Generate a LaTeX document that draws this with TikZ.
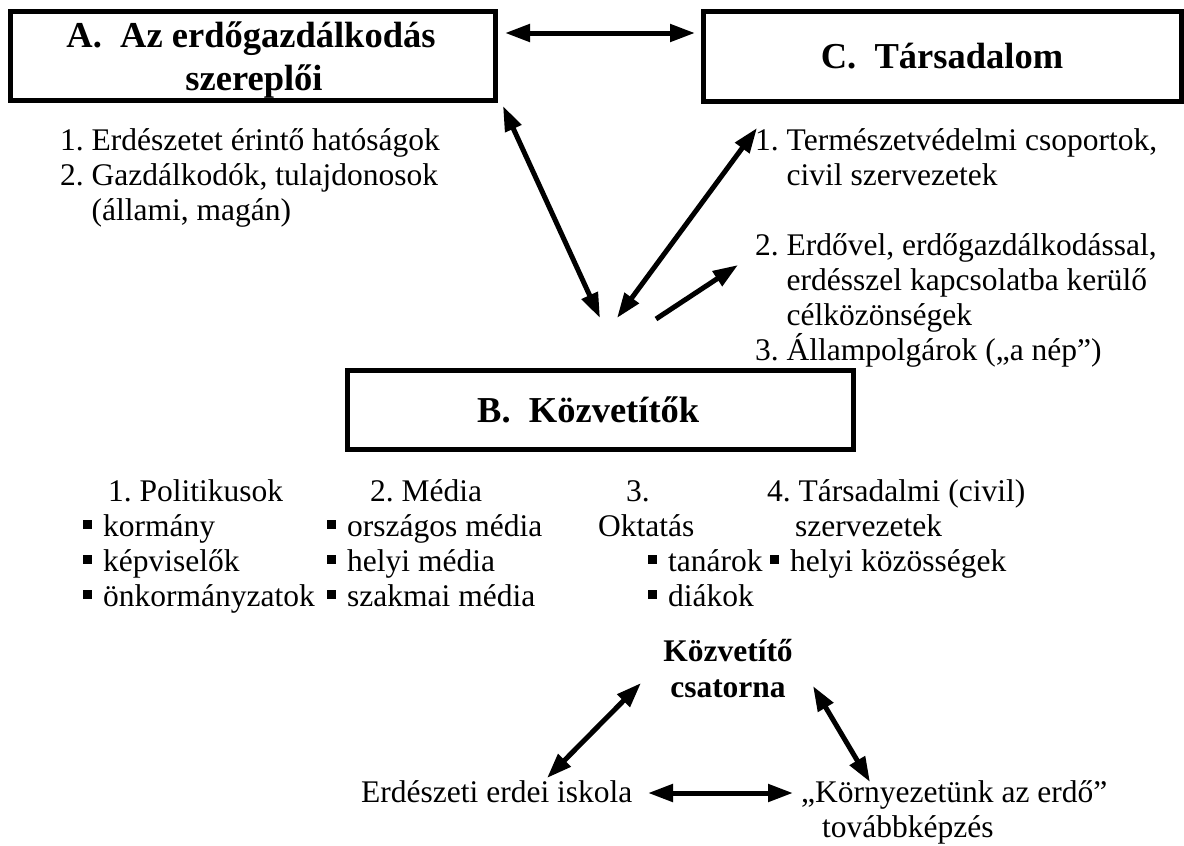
\documentclass[tikz,border=0pt]{standalone}
\usepackage{fontspec}
\setmainfont{Liberation Serif}
\usetikzlibrary{arrows.meta}
\newcommand\bul{\raisebox{7pt}{\rule{9pt}{9pt}}\hspace{11pt}}
\frenchspacing
\begin{document}
\begin{tikzpicture}[x=1pt,y=-1pt,
 box/.style={draw,line width=5pt,inner sep=0,outer sep=0},
 ttl/.style={font=\fontsize{36.5}{42}\bfseries\selectfont,inner sep=0},
 txt/.style={font=\fontsize{31.5}{35}\selectfont,inner sep=0,anchor=base west},
 bld/.style={font=\fontsize{31.5}{35}\bfseries\selectfont,inner sep=0,anchor=base},
 arr/.style={line width=5pt,{Triangle[length=25pt,width=17pt]}-{Triangle[length=25pt,width=17pt]}},
 arrone/.style={line width=5pt,-{Triangle[length=25pt,width=17pt]}}]
\useasboundingbox (0,0) rectangle (1184,846);
% boxes
\node[box,minimum width=484.5pt,minimum height=89.5pt] (A) at (252.75,55.75) {};
\node[box,minimum width=478pt,minimum height=89.5pt] (C) at (942,56.25) {};
\node[box,minimum width=505.5pt,minimum height=79pt] (B) at (600.25,410) {};
% titles
\node[ttl,anchor=base] (tA1) at (251,47) {A.\hspace{0.5em}Az erdőgazdálkodás};
\node[ttl,anchor=base] (tA2) at (254,90) {szereplői};
\node[ttl,anchor=base] (tC) at (942,68) {C.\hspace{0.5em}Társadalom};
\node[ttl,anchor=base west] (tB) at (477,422) {B.\hspace{0.5em}Közvetítők};
% list A
\node[txt] (a1) at (60,150) {1. Erdészetet érintő hatóságok};
\node[txt] (a2) at (60,185) {2. Gazdálkodók, tulajdonosok};
\node[txt] (a2b) at (91.5,220) {(állami, magán)};
% list C
\node[txt] (c1) at (755,150) {1. Természetvédelmi csoportok,};
\node[txt] (c1b) at (786.5,185) {civil szervezetek};
\node[txt] (c2) at (755,255) {2. Erdővel, erdőgazdálkodással,};
\node[txt] (c2b) at (786.5,290) {erdésszel kapcsolatba kerülő};
\node[txt] (c2c) at (786.5,325) {célközönségek};
\node[txt] (c3) at (755,360) {3. Állampolgárok („a nép”)};
% list B
\node[txt] (b1) at (108,501) {1. Politikusok};
\node[txt] (b11) at (83,536) {\bul kormány};
\node[txt] (b12) at (83,571) {\bul képviselők};
\node[txt] (b13) at (83,606) {\bul önkormányzatok};
\node[txt] (b2) at (370,501) {2. Média};
\node[txt] (b21) at (327,536) {\bul országos média};
\node[txt] (b22) at (327,571) {\bul helyi média};
\node[txt] (b23) at (327,606) {\bul szakmai média};
\node[txt] (b3) at (626,501) {3.};
\node[txt] (b3b) at (598,536) {Oktatás};
\node[txt] (b31) at (648,571) {\bul tanárok};
\node[txt] (b32) at (648,606) {\bul diákok};
\node[txt] (b4) at (767,501) {4. Társadalmi (civil)};
\node[txt] (b4b) at (795,536) {szervezetek};
\node[txt] (b41) at (770,571) {\bul helyi közösségek};
% channel
\node[bld] (k1) at (728,661) {Közvetítő};
\node[bld] (k2) at (728,697) {csatorna};
\node[txt] (e) at (361,802) {Erdészeti erdei iskola};
\node[txt] (ke) at (801,802) {„Környezetünk az erdő”};
\node[txt] (keb) at (822,837) {továbbképzés};
% arrow ends
\coordinate (pAC1) at (505,33);
\coordinate (pAC2) at (695,33);
\coordinate (pAB1) at (503,106);
\coordinate (pAB2) at (600,318);
\coordinate (pCB1) at (757,128);
\coordinate (pCB2) at (617,318);
\coordinate (pC2s) at (656,319);
\coordinate (pC2e) at (738,265);
\coordinate (pKE1) at (641,683);
\coordinate (pKE2) at (547,778);
\coordinate (pKK1) at (813,686);
\coordinate (pKK2) at (870,782);
\coordinate (pEE1) at (648,793);
\coordinate (pEE2) at (793,793);
\draw[arr] (pAC1) -- (pAC2);
\draw[arr] (pAB1) -- (pAB2);
\draw[arr] (pCB1) -- (pCB2);
\draw[arrone] (pC2s) -- (pC2e);
\draw[arr] (pKE1) -- (pKE2);
\draw[arr] (pKK1) -- (pKK2);
\draw[arr] (pEE1) -- (pEE2);
\end{tikzpicture}
\end{document}
